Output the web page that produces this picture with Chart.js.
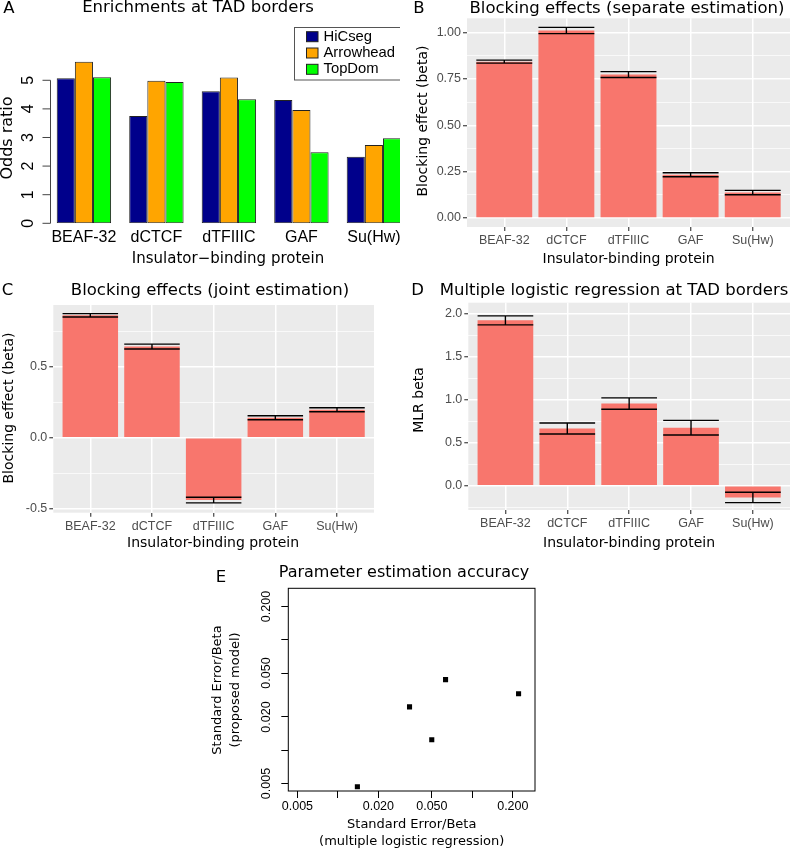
<!DOCTYPE html>
<html>
<head>
<meta charset="utf-8">
<script src="https://cdn.jsdelivr.net/npm/chart.js@4.4.0/dist/chart.umd.min.js"></script>
<style>
  html, body { margin: 0; padding: 0; background: #fff; }
  #page { position: relative; width: 792px; height: 851px; overflow: hidden; }
  .panel { position: absolute; overflow: hidden; }
  canvas { display: block; }
</style>
</head>
<body>
<div id="page">
  <div class="panel" style="left:0;top:0;width:400px;height:270px"><canvas id="chartA" width="420" height="270"></canvas></div>
  <div class="panel" style="left:395px;top:0;width:397px;height:270px"><canvas id="chartB" width="397" height="270"></canvas></div>
  <div class="panel" style="left:0;top:260px;width:395px;height:290px"><canvas id="chartC" width="395" height="290"></canvas></div>
  <div class="panel" style="left:395px;top:260px;width:397px;height:290px"><canvas id="chartD" width="397" height="290"></canvas></div>
  <div class="panel" style="left:200px;top:555px;width:350px;height:296px"><canvas id="chartE" width="350" height="296"></canvas></div>
</div>
<script>
// categories
const proteins = ['BEAF-32', 'dCTCF', 'dTFIIIC', 'GAF', 'Su(Hw)'];

// A: odds ratios per TAD caller
const oddsHiCseg = [5.07, 3.75, 4.62, 4.31, 2.33];
const oddsArrowhead = [5.65, 4.98, 5.10, 3.96, 2.74];
const oddsTopDom = [5.11, 4.94, 4.34, 2.48, 2.97];
const oddsTicks = [0, 1, 2, 3, 4, 5];

// B: separate estimation
const sepBeta = [0.844, 1.012, 0.774, 0.233, 0.137];
const sepErr = [0.008, 0.017, 0.016, 0.011, 0.012];
const sepTicks = [0, 0.25, 0.5, 0.75, 1.0];
const sepMinor = [0.125, 0.375, 0.625, 0.875];

// C: joint estimation
const jointBeta = [0.862, 0.642, -0.439, 0.141, 0.197];
const jointErr = [0.012, 0.017, 0.020, 0.014, 0.014];
const jointTicks = [-0.5, 0, 0.5];
const jointMinor = [-0.25, 0.25, 0.75];

// D: multiple logistic regression
const mlrBeta = [1.92, 0.666, 0.955, 0.675, -0.134];
const mlrErr = [0.052, 0.064, 0.066, 0.085, 0.060];
const mlrTicks = [0, 0.5, 1, 1.5, 2];
const mlrMinor = [-0.25, 0.25, 0.75, 1.25, 1.75];

// E: standard error / beta
const seMLR = [0.01396, 0.0341, 0.0499, 0.0632, 0.2207];
const seModel = [0.00467, 0.0247, 0.01244, 0.0436, 0.0325];
const logTicks = [0.005, 0.01, 0.02, 0.05, 0.1, 0.2];
const logLabels = ['0.005', '', '0.020', '0.050', '', '0.200'];

const TITLE = '16.5px "DejaVu Sans"';
const AXTITLE = '14px "DejaVu Sans"';
const tickFont = { family: 'Liberation Sans', size: 12.5 };

const xy = vals => vals.map((v, i) => ({ x: i, y: v }));

// background fill, frame and free text
const extrasPlugin = {
  id: 'extras',
  beforeDraw(chart, args, opts) {
    if (!opts.bg) return;
    const { ctx, chartArea: a } = chart;
    ctx.save();
    ctx.fillStyle = opts.bg;
    ctx.fillRect(a.left, a.top, a.right - a.left, a.bottom - a.top);
    ctx.restore();
  },
  afterDraw(chart, args, opts) {
    const { ctx, chartArea: a } = chart;
    ctx.save();
    if (opts.box) {
      ctx.strokeStyle = '#000';
      ctx.lineWidth = 1;
      ctx.strokeRect(a.left, a.top, a.right - a.left, a.bottom - a.top);
    }
    (opts.texts || []).forEach(t => {
      ctx.save();
      ctx.font = t.font;
      ctx.fillStyle = t.color || '#000';
      ctx.textAlign = t.align || 'center';
      ctx.textBaseline = 'middle';
      ctx.translate(t.x, t.y);
      if (t.rotate) ctx.rotate(t.rotate * Math.PI / 180);
      ctx.fillText(t.text, 0, 0);
      ctx.restore();
    });
    ctx.restore();
  }
};

// R style y axis with labels parallel to the axis
const rotYPlugin = {
  id: 'rotY',
  afterDraw(chart, args, opts) {
    const { ctx, chartArea } = chart;
    const y = chart.scales.y;
    const x0 = chartArea.left;
    ctx.save();
    if (opts.line) {
      ctx.strokeStyle = '#444';
      ctx.lineWidth = 1;
      ctx.beginPath();
      ctx.moveTo(x0, y.getPixelForValue(opts.values[0]));
      ctx.lineTo(x0, y.getPixelForValue(opts.values[opts.values.length - 1]));
      opts.values.forEach(v => {
        const py = y.getPixelForValue(v);
        ctx.moveTo(x0, py);
        ctx.lineTo(x0 - opts.tickLen, py);
      });
      ctx.stroke();
    }
    ctx.fillStyle = '#000';
    ctx.font = opts.font;
    ctx.textAlign = 'center';
    ctx.textBaseline = 'middle';
    opts.values.forEach((v, i) => {
      const lab = opts.labels[i];
      if (!lab) return;
      ctx.save();
      ctx.translate(opts.labelX, y.getPixelForValue(v));
      ctx.rotate(-Math.PI / 2);
      ctx.fillText(lab, 0, 0);
      ctx.restore();
    });
    ctx.restore();
  }
};

// boxed legend like base R
const boxLegendPlugin = {
  id: 'boxLegend',
  afterDraw(chart, args, opts) {
    const { ctx } = chart;
    ctx.save();
    ctx.strokeStyle = '#555';
    ctx.lineWidth = 1;
    ctx.strokeRect(opts.x, opts.y, opts.w, opts.h);
    ctx.font = '14.8px "Liberation Sans"';
    ctx.textAlign = 'left';
    ctx.textBaseline = 'middle';
    chart.data.datasets.forEach((ds, i) => {
      const cy = opts.firstRow + i * opts.rowGap;
      ctx.fillStyle = ds.backgroundColor;
      ctx.fillRect(opts.swX, cy - 5, 11.5, 10);
      ctx.strokeStyle = '#222';
      ctx.strokeRect(opts.swX, cy - 5, 11.5, 10);
      ctx.fillStyle = '#000';
      ctx.fillText(ds.label, opts.textX, cy);
    });
    ctx.restore();
  }
};

const errorBarPlugin = {
  id: 'errbars',
  afterDatasetsDraw(chart, args, opts) {
    const { ctx } = chart;
    const y = chart.scales.y;
    const meta = chart.getDatasetMeta(0);
    const vals = chart.data.datasets[0].data;
    ctx.save();
    ctx.strokeStyle = '#000';
    ctx.lineWidth = 1.4;
    meta.data.forEach((bar, i) => {
      const { x, width } = bar.getProps(['x', 'width'], true);
      const v = vals[i].y, e = opts.errors[i];
      const top = y.getPixelForValue(v + e), bot = y.getPixelForValue(v - e);
      ctx.beginPath();
      ctx.moveTo(x - width / 2, top); ctx.lineTo(x + width / 2, top);
      ctx.moveTo(x - width / 2, bot); ctx.lineTo(x + width / 2, bot);
      ctx.moveTo(x, top); ctx.lineTo(x, bot);
      ctx.stroke();
    });
    ctx.restore();
  }
};

const categoryTicks = s => { s.ticks = proteins.map((p, i) => ({ value: i })); };

// Panel A
const cvA = document.getElementById('chartA');
new Chart(cvA, {
  type: 'bar',
  data: {
    datasets: [
      { label: 'HiCseg', data: xy(oddsHiCseg), backgroundColor: '#00008B' },
      { label: 'Arrowhead', data: xy(oddsArrowhead), backgroundColor: '#FFA500' },
      { label: 'TopDom', data: xy(oddsTopDom), backgroundColor: '#00FF00' }
    ]
  },
  options: {
    responsive: false,
    animation: false,
    events: [],
    datasets: { bar: { categoryPercentage: 0.75, barPercentage: 1, borderColor: '#222', borderWidth: 1, borderSkipped: false } },
    layout: { padding: { left: 50.5, top: 43.1, right: 20, bottom: 0 } },
    scales: {
      x: {
        type: 'linear', min: -0.4607, max: 4.36, offset: false,
        afterBuildTicks: categoryTicks,
        afterFit: s => { s.height = 270 - 223.3; },
        grid: { display: false, drawTicks: false },
        border: { display: false },
        ticks: { autoSkip: false, maxRotation: 0, padding: 5, color: '#000', font: { family: 'Liberation Sans', size: 16 }, callback: v => proteins[v] }
      },
      y: { display: false, min: 0, max: 6.3 }
    },
    plugins: {
      legend: { display: false },
      tooltip: { enabled: false },
      rotY: { line: true, values: oddsTicks, labels: oddsTicks.map(String), tickLen: 8, labelX: 29, font: '16px "Liberation Sans"' },
      boxLegend: { x: 294.5, y: 27.5, w: 120, h: 52.5, swX: 306.5, textX: 323.5, firstRow: 36.7, rowGap: 16.3 },
      extras: {
        texts: [
          { text: 'A', x: 9, y: 8.5, font: TITLE },
          { text: 'Enrichments at TAD borders', x: 198, y: 8, font: TITLE },
          { text: 'Odds ratio', x: 7.5, y: 138, rotate: -90, font: '16px "DejaVu Sans"' },
          { text: 'Insulator\u2212binding protein', x: 228, y: 259, font: '15px "DejaVu Sans"' }
        ]
      }
    }
  },
  plugins: [rotYPlugin, boxLegendPlugin, extrasPlugin]
});

// Panels B, C, D share the ggplot look
function ggPanel(id, cfg) {
  const cv = document.getElementById(id);
  const W = cv.width, H = cv.height, a = cfg.area;
  const isMajor = v => cfg.major.some(m => Math.abs(m - v) < 1e-9);
  return new Chart(cv, {
    type: 'bar',
    data: { datasets: [{ data: xy(cfg.values), backgroundColor: '#F8766D', barPercentage: 0.9, categoryPercentage: 1.0 }] },
    options: {
      responsive: false,
      animation: false,
      events: [],
      layout: { padding: { left: 0, top: a.top, right: W - a.right, bottom: 0 } },
      scales: {
        x: {
          type: 'linear', min: -0.6, max: 4.6, offset: false,
          afterBuildTicks: categoryTicks,
          afterFit: s => { s.height = H - a.bottom; },
          grid: { offset: false, color: '#fff', lineWidth: 1.5, tickColor: '#333', tickLength: 4, tickWidth: 1.1 },
          border: { display: false },
          ticks: { autoSkip: false, maxRotation: 0, padding: 2, color: '#4D4D4D', font: tickFont, callback: v => proteins[v] }
        },
        y: {
          min: cfg.min, max: cfg.max,
          afterBuildTicks: s => { s.ticks = cfg.major.concat(cfg.minor).sort((p, q) => p - q).map(v => ({ value: v })); },
          afterFit: s => { s.width = a.left; },
          grid: {
            color: '#fff',
            lineWidth: c => isMajor(c.tick.value) ? 1.5 : 0.7,
            tickColor: c => isMajor(c.tick.value) ? '#333' : 'rgba(0,0,0,0)',
            tickLength: 4, tickWidth: 1.1
          },
          border: { display: false },
          ticks: { padding: 2, color: '#4D4D4D', font: tickFont, callback: v => isMajor(v) ? v.toFixed(cfg.digits) : '' }
        }
      },
      plugins: {
        legend: { display: false },
        tooltip: { enabled: false },
        errbars: { errors: cfg.errors },
        extras: { bg: '#EBEBEB', texts: cfg.texts }
      }
    },
    plugins: [errorBarPlugin, extrasPlugin]
  });
}

ggPanel('chartB', {
  values: sepBeta, errors: sepErr, major: sepTicks, minor: sepMinor, digits: 2,
  min: -0.049, max: 1.078,
  area: { left: 72, right: 395, top: 18.3, bottom: 227 },
  texts: [
    { text: 'B', x: 24, y: 9, font: TITLE },
    { text: 'Blocking effects (separate estimation)', x: 232, y: 8.5, font: TITLE },
    { text: 'Blocking effect (beta)', x: 28, y: 121, rotate: -90, font: AXTITLE },
    { text: 'Insulator-binding protein', x: 233.5, y: 259, font: AXTITLE }
  ]
});

ggPanel('chartC', {
  values: jointBeta, errors: jointErr, major: jointTicks, minor: jointMinor, digits: 1,
  min: -0.528, max: 0.9345,
  area: { left: 53.3, right: 374, top: 45, bottom: 252.7 },
  texts: [
    { text: 'C', x: 7.5, y: 31, font: TITLE },
    { text: 'Blocking effects (joint estimation)', x: 210, y: 30.5, font: TITLE },
    { text: 'Blocking effect (beta)', x: 9.5, y: 148, rotate: -90, font: AXTITLE },
    { text: 'Insulator-binding protein', x: 213, y: 283, font: AXTITLE }
  ]
});

ggPanel('chartD', {
  values: mlrBeta, errors: mlrErr, major: mlrTicks, minor: mlrMinor, digits: 1,
  min: -0.28, max: 2.125,
  area: { left: 73.3, right: 395, top: 42.7, bottom: 250 },
  texts: [
    { text: 'D', x: 22.5, y: 31, font: TITLE },
    { text: 'Multiple logistic regression at TAD borders', x: 219, y: 30.5, font: TITLE },
    { text: 'MLR beta', x: 24, y: 140, rotate: -90, font: AXTITLE },
    { text: 'Insulator-binding protein', x: 234, y: 283, font: AXTITLE }
  ]
});

// Panel E
const logTickFn = s => { s.ticks = logTicks.map(v => ({ value: v })); };
const cvE = document.getElementById('chartE');
new Chart(cvE, {
  type: 'scatter',
  data: {
    datasets: [{
      data: seMLR.map((v, i) => ({ x: v, y: seModel[i] })),
      pointStyle: 'rect', pointRadius: 3.6, backgroundColor: '#000', borderWidth: 0
    }]
  },
  options: {
    responsive: false,
    animation: false,
    events: [],
    layout: { padding: { left: 0, top: 33.3, right: 15, bottom: 0 } },
    scales: {
      x: {
        type: 'logarithmic', min: 0.004276, max: 0.2924,
        afterBuildTicks: logTickFn,
        afterFit: s => { s.height = 60; },
        grid: { drawOnChartArea: false, tickLength: 7, tickColor: '#000', tickWidth: 1 },
        border: { display: false },
        ticks: { autoSkip: false, maxRotation: 0, padding: 1, color: '#000', font: tickFont, callback: (v, i) => logLabels[i] }
      },
      y: {
        type: 'logarithmic', min: 0.004276, max: 0.2924,
        afterBuildTicks: logTickFn,
        afterFit: s => { s.width = 88.3; },
        grid: { drawOnChartArea: false, tickLength: 7, tickColor: '#000', tickWidth: 1 },
        border: { display: false },
        ticks: { display: false }
      }
    },
    plugins: {
      legend: { display: false },
      tooltip: { enabled: false },
      rotY: { line: false, values: logTicks, labels: logLabels, tickLen: 0, labelX: 67, font: '12.5px "Liberation Sans"' },
      extras: {
        box: true,
        texts: [
          { text: 'E', x: 21, y: 22.5, font: TITLE },
          { text: 'Parameter estimation accuracy', x: 204, y: 17.5, font: '16px "DejaVu Sans"' },
          { text: 'Standard Error/Beta', x: 17.5, y: 135, rotate: -90, font: '13px "DejaVu Sans"' },
          { text: '(proposed model)', x: 36, y: 135, rotate: -90, font: '13px "DejaVu Sans"' },
          { text: 'Standard Error/Beta', x: 211.7, y: 270, font: '13px "DejaVu Sans"' },
          { text: '(multiple logistic regression)', x: 211.7, y: 287, font: '13px "DejaVu Sans"' }
        ]
      }
    }
  },
  plugins: [rotYPlugin, extrasPlugin]
});
</script>
</body>
</html>
